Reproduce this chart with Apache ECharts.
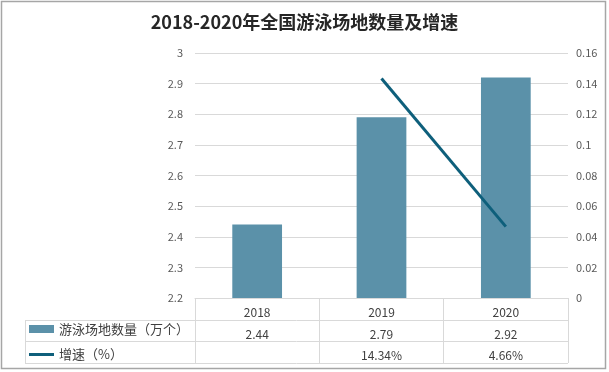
<!DOCTYPE html>
<html><head><meta charset="utf-8">
<script src="https://cdn.jsdelivr.net/npm/echarts@6/dist/echarts.min.js"></script>
<style>html,body{margin:0;padding:0;background:#fff}#c{width:609px;height:372px}</style>
</head><body><div id="c"></div>
<script>
var title = '2018-2020年全国游泳场地数量及增速';
var years = ['2018', '2019', '2020'];
var venues = [2.44, 2.79, 2.92];
var growth = [null, 0.1434, 0.0466];
var growthLabels = ['', '14.34%', '4.66%'];
var barName = '游泳场地数量（万个）';
var lineName = '增速（%）';

var FONT = '"Noto Sans CJK SC", "Noto Sans", sans-serif';
var chart = echarts.init(document.getElementById('c'), null, {renderer: 'canvas'});
var gridLeft = 195, gridRight = 41, gridTop = 53, gridBottom = 74;
var rowTop = 372 - gridBottom; // 298
var rowH = 21.5;
var tableLeft = 25, tableRight = 609 - gridRight;
var lc = '#d9d9d9';
var graphics = [
  {type: 'rect', shape: {x: 1.5, y: 1.5, width: 604, height: 367}, style: {fill: 'none', stroke: '#a6a6a6', lineWidth: 1.5}, silent: true}
];
for (var r = 1; r <= 3; r++) {
  var y = Math.round(rowTop + r * rowH) + 0.5;
  graphics.push({type: 'line', shape: {x1: tableLeft, y1: y, x2: tableRight, y2: y}, style: {stroke: lc, lineWidth: 1}, silent: true});
}
graphics.push({type: 'line', shape: {x1: tableLeft + 0.5, y1: Math.round(rowTop + rowH) + 0.5, x2: tableLeft + 0.5, y2: Math.round(rowTop + 3 * rowH) + 0.5}, style: {stroke: lc, lineWidth: 1}, silent: true});

var legendText = {fontFamily: FONT, fontSize: 13, color: '#404040'};
chart.setOption({
  animation: false,
  title: {text: title, left: 'center', top: 8, textStyle: {fontFamily: FONT, fontSize: 18, fontWeight: 'bold', color: '#262626'}},
  grid: {left: gridLeft, right: gridRight, top: gridTop, bottom: gridBottom},
  legend: [
    {left: 29, top: rowTop + rowH + 3, itemWidth: 25, itemHeight: 8, itemGap: 4, padding: 0,
     textStyle: legendText, data: [{name: barName, icon: 'rect'}]},
    {left: 29, top: rowTop + 2 * rowH + 3, itemWidth: 25, itemHeight: 3, padding: [4, 0, 0, 0],
     textStyle: legendText, data: [{name: lineName, icon: 'rect'}]}
  ],
  xAxis: {
    type: 'category', data: years,
    axisLine: {show: true, lineStyle: {color: lc}},
    axisTick: {show: true, length: Math.round(3 * rowH) , lineStyle: {color: lc}},
    axisLabel: {
      margin: 4,
      formatter: function (v, i) {
        return '{h|' + v + '}\n{v|' + venues[i] + '}\n{v|' + (growthLabels[i] || ' ') + '}';
      },
      rich: {
        h: {fontFamily: FONT, fontSize: 12, color: '#404040', lineHeight: rowH, height: rowH},
        v: {fontFamily: FONT, fontSize: 12, color: '#404040', lineHeight: rowH, height: rowH}
      }
    }
  },
  yAxis: [
    {type: 'value', min: 2.2, max: 3, interval: 0.1,
     axisLine: {show: false}, axisTick: {show: false},
     axisLabel: {margin: 12, fontFamily: FONT, fontSize: 11, color: '#595959'},
     splitLine: {lineStyle: {color: lc}}},
    {type: 'value', min: 0, max: 0.16, interval: 0.02,
     axisLine: {show: false}, axisTick: {show: false},
     axisLabel: {margin: 8, fontFamily: FONT, fontSize: 11, color: '#595959'},
     splitLine: {show: false}}
  ],
  series: [
    {name: barName, type: 'bar', data: venues, barWidth: '40%', itemStyle: {color: '#5b91a9'}},
    {name: lineName, type: 'line', yAxisIndex: 1, data: growth, symbol: 'none', lineStyle: {color: '#0e5f7b', width: 3}, itemStyle: {color: '#0e5f7b'}}
  ],
  graphic: graphics
});
</script></body></html>
